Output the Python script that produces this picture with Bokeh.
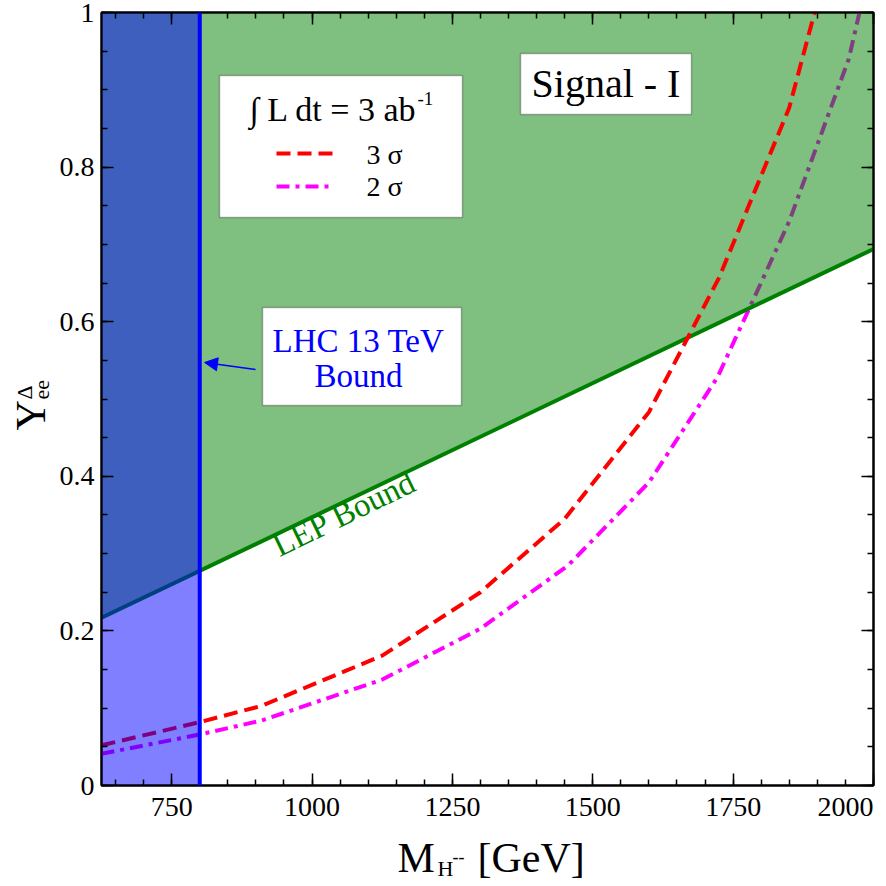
import math
from bokeh.plotting import figure
from bokeh.layouts import row, column
from bokeh.models import (FixedTicker, LinearAxis, Label, BoxAnnotation, Span,
                          Arrow, NormalHead, Range1d)
from bokeh.core.properties import value
from bokeh.embed import file_html
from bokeh.resources import INLINE

# ---------------- data ----------------
mass_limits = [625, 2000]
y_limits = [0, 1]
lhc_bound_mass = 800
mass_lep = [625, 2000]
y_lep = [0.217, 0.694]
mass_3sigma = [625, 800, 910, 1125, 1300, 1450, 1600, 1725, 1850, 1895]
y_3sigma = [0.052, 0.082, 0.103, 0.168, 0.25, 0.345, 0.483, 0.657, 0.877, 1.0]
mass_2sigma = [625, 800, 910, 1125, 1300, 1455, 1600, 1722, 1778, 1850, 1956, 1975]
y_2sigma = [0.041, 0.066, 0.084, 0.137, 0.203, 0.284, 0.392, 0.528, 0.616, 0.73, 0.94, 1.0]
x_ticks = [750, 1000, 1250, 1500, 1750, 2000]
x_tick_labels = ["750", "1000", "1250", "1500", "1750", "2000"]
y_ticks = [0, 0.2, 0.4, 0.6, 0.8, 1]
y_tick_labels = ["0", "0.2", "0.4", "0.6", "0.8", "1"]

FONT = "Liberation Serif"
MID = 0.34               # visual middle of a text line above its baseline, in em
W = H = 886
LEFT_STRIP = 54          # width of strip holding the y title
BOTTOM_STRIP = 90        # height of strip holding x tick labels + x title
# frame geometry in canvas pixels (for placing annotations)
FL, FR, FT, FB = 101, 873, 12, 785


def gx(px):
    return mass_limits[0] + (px - FL) * (mass_limits[1] - mass_limits[0]) / (FR - FL)


def gy(py):
    return y_limits[0] + (FB - py) * (y_limits[1] - y_limits[0]) / (FB - FT)


def cy(py):
    return H - py


p = figure(width=W - LEFT_STRIP, height=H - BOTTOM_STRIP, output_backend="svg",
           toolbar_location=None,
           x_range=Range1d(*mass_limits), y_range=Range1d(*y_limits),
           min_border_left=FL - LEFT_STRIP, min_border_right=W - FR,
           min_border_top=FT, min_border_bottom=H - BOTTOM_STRIP - FB)
p.xgrid.visible = False
p.ygrid.visible = False
p.outline_line_color = "black"
p.outline_line_width = 2
p.background_fill_color = "white"
p.border_fill_color = "white"

x_minor = list(range(650, 2001, 50))
y_minor = [i * 0.05 for i in range(21)]


def style_axis(ax, labels=True):
    ax.axis_line_color = "black"
    ax.axis_line_width = 2
    ax.major_tick_in = 12
    ax.major_tick_out = 0
    ax.minor_tick_in = 6
    ax.minor_tick_out = 0
    ax.major_tick_line_color = "black"
    ax.minor_tick_line_color = "black"
    ax.major_tick_line_width = 1.5
    ax.minor_tick_line_width = 1.5
    if labels:
        ax.major_label_text_font = FONT
        ax.major_label_text_font_size = "28px"
        ax.major_label_text_color = "black"
    else:
        ax.major_label_text_font_size = "0px"
        ax.major_label_text_color = None
        ax.major_label_standoff = 0


xa = p.xaxis[0]
xa.ticker = FixedTicker(ticks=x_ticks, minor_ticks=x_minor)
style_axis(xa, labels=False)

ya = p.yaxis[0]
ya.ticker = FixedTicker(ticks=y_ticks, minor_ticks=y_minor)
ya.major_label_overrides = {t: l for t, l in zip(y_ticks, y_tick_labels)}
style_axis(ya)
ya.major_label_standoff = 7

top = LinearAxis(ticker=FixedTicker(ticks=x_ticks, minor_ticks=x_minor))
style_axis(top, labels=False)
p.add_layout(top, "above")
right = LinearAxis(ticker=FixedTicker(ticks=y_ticks, minor_ticks=y_minor))
style_axis(right, labels=False)
p.add_layout(right, "right")

# ---------------- glyphs (order matters for transparency) ----------------
p.line(mass_2sigma, y_2sigma, line_color="#ff00ff", line_width=4, line_dash="13 6 4 6")
p.varea(x=mass_lep, y1=y_lep, y2=[y_limits[1]] * 2, fill_color="#008000", fill_alpha=0.5)
p.line(mass_lep, y_lep, line_color="#008000", line_width=4)
p.line(mass_3sigma, y_3sigma, line_color="#ff0000", line_width=4, line_dash="14 7")
p.varea(x=[mass_limits[0], lhc_bound_mass], y1=[y_limits[0]] * 2, y2=[y_limits[1]] * 2,
        fill_color="#0000ff", fill_alpha=0.5)
p.add_layout(Span(location=lhc_bound_mass, dimension="height", line_color="#0000ff", line_width=4))

# ---------------- boxes ----------------
for l_, r_, t_, b_ in [(219, 462, 75, 217), (520, 691, 53, 114), (262, 461, 307, 405)]:
    p.add_layout(BoxAnnotation(left=gx(l_), right=gx(r_), top=gy(t_), bottom=gy(b_),
                               fill_color="white", fill_alpha=1, line_color="black",
                               line_width=1.5))


def lab(px, py, text, size, color="black", align="left", angle=0.0):
    """px, py: canvas position of the text's baseline anchor."""
    mx = px - MID * size * math.sin(angle)
    my = py - MID * size * math.cos(angle)
    p.add_layout(Label(x=gx(mx), y=gy(my), text=text, text_font=FONT,
                       text_font_size=f"{size}px", text_color=color,
                       text_align=align, text_baseline="middle", angle=angle))


# legend box
lab(249, 121, "\u222b L dt = 3 ab", 34)
lab(417, 104, "-1", 19)
p.line([gx(276), gx(335)], [gy(153)] * 2, line_color="#ff0000", line_width=4,
       line_dash="14 7", level="overlay")
p.line([gx(276), gx(334)], [gy(186)] * 2, line_color="#ff00ff", line_width=4,
       line_dash="13 6 4 6", level="overlay")
lab(366, 164, "3 \u03c3", 28)
lab(366, 196, "2 \u03c3", 28)

# Signal box
lab(605.5, 97, "Signal - I", 40, align="center")

# LHC box
lab(358, 352, "LHC 13 TeV", 33, color="#0000ff", align="center")
lab(358, 387, "Bound", 33, color="#0000ff", align="center")
p.add_layout(Arrow(x_start=gx(255), y_start=gy(369), x_end=gx(204), y_end=gy(362),
                   line_color="#0000ff", line_width=1.5,
                   end=NormalHead(size=13, fill_color="#0000ff", line_color="#0000ff")))

# LEP text
lab(279, 557, "LEP Bound", 33, color="#008000", angle=math.radians(26))

# ---------------- bottom strip: x tick labels and x title ----------------
fx = figure(width=W - LEFT_STRIP, height=BOTTOM_STRIP, output_backend="svg",
            toolbar_location=None, x_range=p.x_range, y_range=Range1d(0, BOTTOM_STRIP),
            x_axis_type=None, y_axis_type=None,
            min_border_left=FL - LEFT_STRIP, min_border_right=W - FR,
            min_border_top=0, min_border_bottom=0)
fx.outline_line_color = None
fx.background_fill_color = "white"
fx.border_fill_color = "white"


def ftext(fig, xs, base_py, texts, size, align="left"):
    """horizontal text in a strip; base_py = canvas y of the baseline."""
    fig.text(x=xs, y=[cy(base_py - MID * size)] * len(xs), text=texts,
             text_font=value(FONT), text_font_size=value(f"{size}px"),
             text_color="black", text_align=align, text_baseline="middle")


def vtext(fig, base_px, py, texts, size):
    """text rotated 90 deg (reading upwards); base_px = canvas x of the baseline,
    py = canvas y of the text start."""
    fig.text(x=[base_px - MID * size], y=[cy(py)], text=texts,
             text_font=value(FONT), text_font_size=value(f"{size}px"),
             text_color="black", text_align="left", text_baseline="middle",
             angle=math.pi / 2)


ftext(fx, x_ticks[:-1], 816, x_tick_labels[:-1], 28, align="center")
ftext(fx, [x_ticks[-1]], 816, [x_tick_labels[-1]], 28, align="right")
ftext(fx, [gx(397)], 872, ["M"], 42)
ftext(fx, [gx(437)], 875, ["H"], 22)
ftext(fx, [gx(452)], 862, ["--"], 18)
ftext(fx, [gx(477)], 872, ["[GeV]"], 42)

# ---------------- left strip: y title ----------------
fy = figure(width=LEFT_STRIP, height=H, output_backend="svg", toolbar_location=None,
            x_range=Range1d(0, LEFT_STRIP), y_range=Range1d(0, H),
            x_axis_type=None, y_axis_type=None,
            min_border_left=0, min_border_right=0, min_border_top=0, min_border_bottom=0)
fy.outline_line_color = None
fy.background_fill_color = "white"
fy.border_fill_color = "white"
vtext(fy, 45, 430, ["Y"], 42)
vtext(fy, 31, 399, ["\u0394"], 22)
vtext(fy, 49, 399, ["ee"], 22)

layout = row(fy, column(p, fx, spacing=0), spacing=0)
open("out.html", "w").write(file_html(layout, INLINE))
